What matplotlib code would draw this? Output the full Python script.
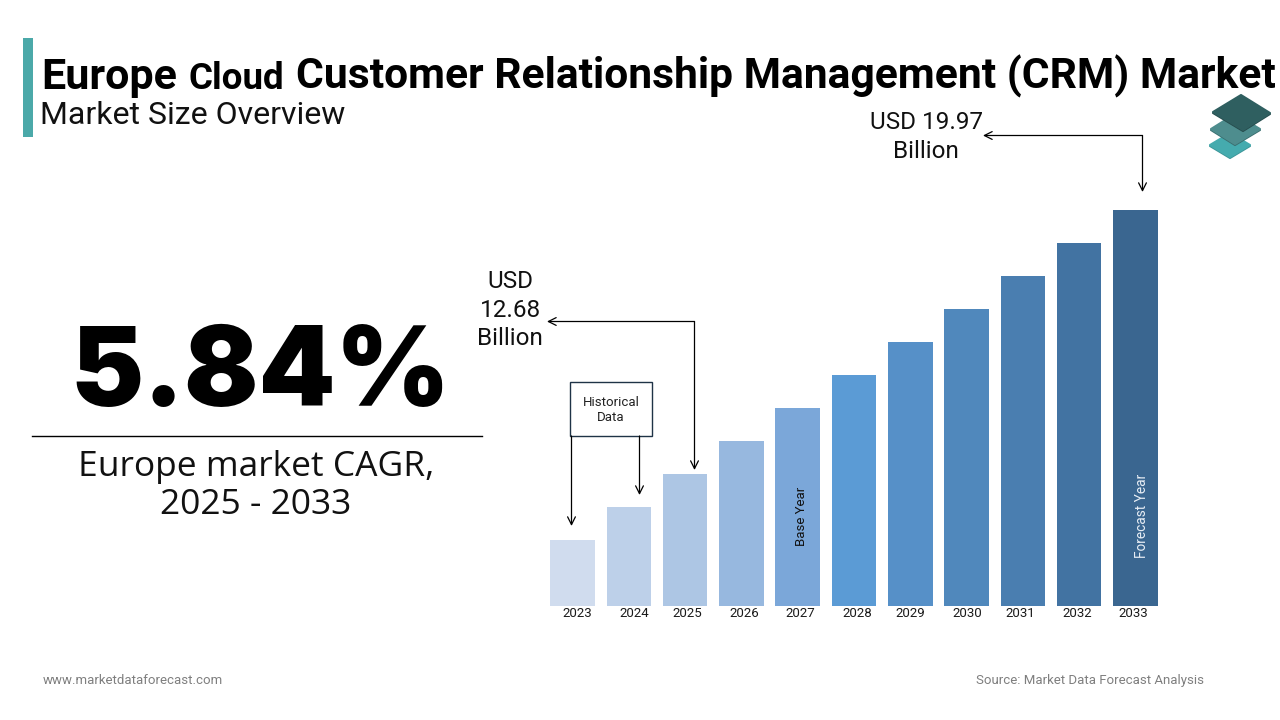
import matplotlib
matplotlib.use("Agg")
import matplotlib.pyplot as plt
from matplotlib.patches import Polygon, Rectangle

W, H = 1280, 720

# bar heights (the source draws them in equal steps, no axis)
years = ["2023", "2024", "2025", "2026", "2027", "2028", "2029", "2030", "2031", "2032", "2033"]
bar_values = [66, 99, 132, 165, 198, 231, 264, 297, 330, 363, 396]
bar_colors = ["#D0DCEE", "#BDD0E9", "#ADC6E4", "#97B8DF", "#7BA7D9", "#5B9BD5",
              "#5690C8", "#5088BC", "#4A7EB0", "#4273A2", "#3A6690"]
# tick labels are not quite centred under the bars in the source
label_px = [577, 634, 687, 744, 800, 857, 910, 967, 1020, 1077, 1133]

plt.rcParams["font.family"] = ["Roboto", "DejaVu Sans"]

fig = plt.figure(figsize=(W / 100, H / 100), dpi=100, facecolor="white")

# bar chart, axes box placed in figure pixels
left, right, base, top = 544.5, 1163.5, 606, 210
ax = fig.add_axes([left / W, 1 - base / H, (right - left) / W, (base - top) / H])
pos = list(range(len(years)))
ax.bar(pos, bar_values, width=0.79, color=bar_colors)
ax.set_xlim(-0.5, 10.5)
ax.set_ylim(0, 396)
ax.set_yticks([])
step = (right - left) / 11
ax.set_xticks([(p - left) / step - 0.5 for p in label_px], years)
ax.tick_params(axis="x", length=0, pad=1, labelsize=9.5, labelcolor="#1a1a1a")
for s in ax.spines.values():
    s.set_visible(False)
ax.patch.set_alpha(0)
ax.text(4.06, 90, "Base Year", rotation=90, ha="center", va="center", fontsize=9.5, color="#111111")
ax.text(10.12, 90, "Forecast Year", rotation=90, ha="center", va="center", fontsize=9.8, color="#E8EEF5")

# everything else on a full figure overlay in pixel coordinates
ov = fig.add_axes([0, 0, 1, 1])
ov.set_xlim(0, W)
ov.set_ylim(H, 0)
ov.axis("off")
ov.patch.set_alpha(0)

ov.add_patch(Rectangle((23, 38), 10, 99, color="#4BA9A9", lw=0))
ov.text(41.5, 89, "Europe", fontsize=31, fontweight="bold", color="black", va="baseline")
ov.text(188, 89, "Cloud", fontsize=26.5, fontweight="bold", color="black", va="baseline")
ov.text(296.5, 89, "Customer Relationship Management (CRM) Market", fontsize=30.7,
        fontweight="bold", color="black", va="baseline")
ov.text(40.5, 124, "Market Size Overview", fontsize=23, color="#111111", va="baseline")


# logo, bottom layer first
def layer(pts, face, edge):
    shadow = [[x, y + 1] for x, y in pts]
    ov.add_patch(Polygon(shadow, fc=edge, ec=edge, lw=1.5, joinstyle="round"))
    ov.add_patch(Polygon(pts, fc=face, ec=face, lw=1.5, joinstyle="round"))


layer([[1210, 145], [1230, 133], [1250, 145], [1230, 157]], "#45ABAE", "#3C9497")
layer([[1211, 129], [1235, 114], [1260, 129], [1235, 144]], "#4E8D8E", "#3A6E6F")
layer([[1213, 112], [1241, 95], [1270, 113], [1243, 130]], "#2F5F60", "#264C4D")

# big number block
ov.text(260, 406, "5.84%", fontsize=79, fontfamily="Inter", fontweight="black", color="black",
        ha="center", va="baseline")
ov.plot([32, 482], [436, 436], color="black", lw=1)
ov.text(256, 476, "Europe market CAGR,", fontsize=25.5, fontfamily="Open Sans", color="#111111",
        ha="center", va="baseline")
ov.text(256, 514, "2025 - 2033", fontsize=25.5, fontfamily="Open Sans", color="#111111",
        ha="center", va="baseline")

# callouts
ov.text(926, 129, "USD 19.97", fontsize=17.5, ha="center", va="baseline", color="#111111")
ov.text(926, 158, "Billion", fontsize=17.5, ha="center", va="baseline", color="#111111")
ov.text(510, 288, "USD", fontsize=17.5, ha="center", va="baseline", color="#111111")
ov.text(510, 317, "12.68", fontsize=17.5, ha="center", va="baseline", color="#111111")
ov.text(510, 345, "Billion", fontsize=17.5, ha="center", va="baseline", color="#111111")


def arrow(start, end):
    ov.annotate("", xy=end, xytext=start,
                arrowprops=dict(arrowstyle="->", color="black", lw=0.9, shrinkA=0, shrinkB=0,
                                mutation_scale=14))


arrow((1142.5, 135.5), (983, 135.5))
arrow((1142.5, 135.5), (1142.5, 192))
arrow((694.5, 321.5), (547, 321.5))
arrow((694.5, 321.5), (694.5, 470))

ov.add_patch(Rectangle((570, 382), 82, 54, fc="white", ec="#1F3347", lw=1))
ov.text(611.5, 402, "Historical", fontsize=9.5, ha="center", va="center", color="#222222")
ov.text(611, 417.5, "Data", fontsize=9.5, ha="center", va="center", color="#222222")
arrow((571.5, 436), (571.5, 526))
arrow((639.5, 436), (639.5, 495))

ov.text(43, 684, "www.marketdataforecast.com", fontsize=9.5, color="#7F7F7F", va="baseline")
ov.text(1204, 684, "Source: Market Data Forecast Analysis", fontsize=9.5, color="#7F7F7F",
        ha="right", va="baseline")

fig.savefig("out.png", dpi=100)
